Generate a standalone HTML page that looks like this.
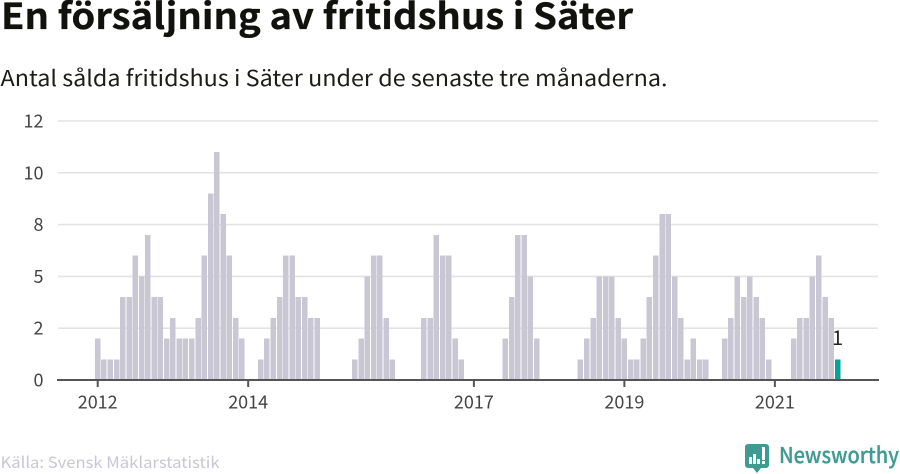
<!DOCTYPE html>
<html lang="sv">
<head>
<meta charset="utf-8">
<title>En försäljning av fritidshus i Säter</title>
<style>
html,body{margin:0;padding:0;background:#fff;}
body{width:900px;height:474px;overflow:hidden;}
svg{display:block;}
text{font-family:"Noto Sans CJK JP","DejaVu Sans",sans-serif;}
</style>
</head>
<body>
<svg id="chart" width="900" height="474" viewBox="0 0 900 474" xmlns="http://www.w3.org/2000/svg">
  <text x="1" y="29" font-size="36" font-weight="700" fill="#11110d" stroke="#11110d" stroke-width="0.3" textLength="632" lengthAdjust="spacingAndGlyphs">En försäljning av fritidshus i Säter</text>
  <text x="0.5" y="86" font-size="22" fill="#1c1c18" textLength="667" lengthAdjust="spacingAndGlyphs">Antal sålda fritidshus i Säter under de senaste tre månaderna.</text>
  <g id="grid"></g>
  <g id="bars"></g>
  <g id="axes"></g>
  <text x="0.5" y="468" font-size="15.5" fill="#c8c7d3" textLength="219" lengthAdjust="spacingAndGlyphs">Källa: Svensk Mäklarstatistik</text>
  <g>
    <path fill="#3f9a92" d="M748 444h18a3 3 0 0 1 3 3v18a3 3 0 0 1-3 3h-5l-4 5-4-5h-5a3 3 0 0 1-3-3v-18a3 3 0 0 1 3-3z"/>
    <g fill="#fff">
      <rect x="749" y="457" width="3" height="7"/>
      <rect x="753" y="454" width="3" height="10"/>
      <rect x="757" y="459" width="3" height="5"/>
      <rect x="762" y="447" width="3" height="13"/>
      <rect x="762" y="461" width="3" height="3"/>
    </g>
    <text x="779" y="463" font-size="22" font-weight="500" fill="#3f9a92" stroke="#3f9a92" stroke-width="0.25" textLength="120" lengthAdjust="spacingAndGlyphs">Newsworthy</text>
  </g>
</svg>
<script>
const startYear = 2012;
const values = [
  2,1,1,1,4,4,6,5,7,4,4,2,
  3,2,2,2,3,6,9,11,8,6,3,2,
  0,0,1,2,3,4,6,6,4,4,3,3,
  0,0,0,0,0,1,2,5,6,6,3,1,
  0,0,0,0,3,3,7,6,6,2,1,0,
  0,0,0,0,0,2,4,7,7,5,2,0,
  0,0,0,0,0,1,2,3,5,5,5,3,
  2,1,1,2,4,6,8,8,5,3,1,2,
  1,1,0,0,2,3,5,4,5,4,3,1,
  0,0,0,2,3,3,5,6,4,3,1
];
const highlightedIndex = 118;
const highlightedLabel = "1";
const yTickValues = [0, 2.5, 5, 7.5, 10, 12.5];
const yTickLabels = ["0", "2", "5", "8", "10", "12"];
const xTickYears = [2012, 2014, 2017, 2019, 2021];

const NS = "http://www.w3.org/2000/svg";
const plot = {left: 58, right: 878, zeroY: 380, topY: 121, firstX: 97.7, monthStep: 6.27, yMax: 12.5, barWidth: 5.5};
const yScale = v => plot.zeroY - (v / plot.yMax) * (plot.zeroY - plot.topY);
const xScale = i => plot.firstX + i * plot.monthStep;
function make(tag, attrs, parent, txt) {
  const el = document.createElementNS(NS, tag);
  for (const k in attrs) el.setAttribute(k, attrs[k]);
  if (txt !== undefined) el.textContent = txt;
  parent.appendChild(el);
  return el;
}
const gridG = document.getElementById("grid");
const barsG = document.getElementById("bars");
const axesG = document.getElementById("axes");

yTickValues.forEach((v, i) => {
  const y = yScale(v);
  if (v > 0) {
    const line = make("line", {x1: plot.left, x2: plot.right, y1: y, y2: y, stroke: "#e3e3e3", "stroke-width": 1.6}, gridG);
    
    
  }
  const label = make("text", {x: 43.5, y: y + 6.5, "text-anchor": "end", "font-size": 18, fill: "#444"}, axesG, yTickLabels[i]);
  
  
});

values.forEach((v, i) => {
  if (v <= 0) return;
  const isLast = i === highlightedIndex;
  const y = yScale(v);
  const bar = make("rect", {
    x: xScale(i) - plot.barWidth / 2,
    y: y,
    width: plot.barWidth,
    height: plot.zeroY - y,
    fill: isLast ? "#04a396" : "#c8c7d3",
    "shape-rendering": "crispEdges"
  }, barsG);
  
  
  if (isLast) {
    const valueLabel = make("text", {x: xScale(i), y: y - 14.5, "text-anchor": "middle", "font-size": 20, fill: "#222"}, barsG, highlightedLabel);
    
    
  }
});

const baseline = make("line", {x1: plot.left - 1, x2: plot.right + 1, y1: plot.zeroY, y2: plot.zeroY, stroke: "#555", "stroke-width": 2}, axesG);



xTickYears.forEach(year => {
  const x = xScale((year - startYear) * 12);
  const tick = make("line", {x1: x, x2: x, y1: plot.zeroY, y2: plot.zeroY + 7, stroke: "#555", "stroke-width": 2}, axesG);
  
  
  const label = make("text", {x: x, y: 408.5, "text-anchor": "middle", "font-size": 18, fill: "#444"}, axesG, String(year));
  
  
});
</script>
</body>
</html>
